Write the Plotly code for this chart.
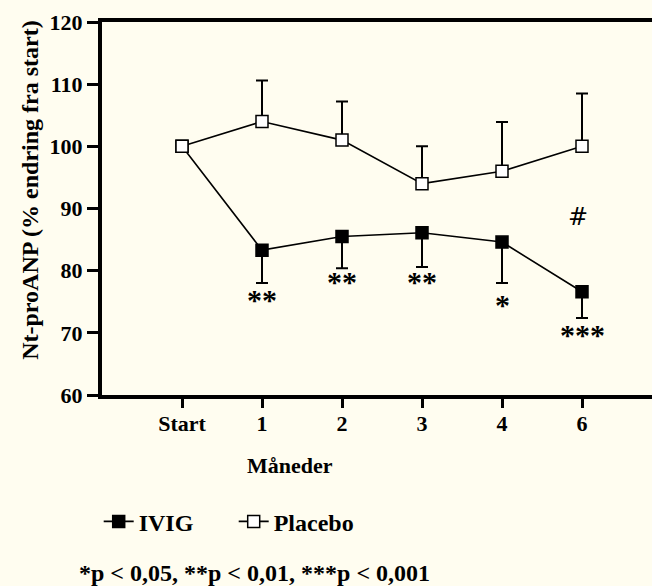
import plotly.graph_objects as go

categories = ["Start", "1", "2", "3", "4", "6"]
ivig = [100, 83.3, 85.5, 86.1, 84.6, 76.6]
ivig_err_low = [0, 5.3, 5.1, 5.5, 6.6, 4.2]
placebo = [100, 104.0, 101.0, 94.0, 96.0, 100.0]
placebo_err_up = [0, 6.6, 6.2, 6.0, 7.9, 8.5]
sig_labels = ["", "**", "**", "**", "*", "***"]
sig_y = [None, 75.4, 78.2, 78.2, 74.6, 69.8]

FONT = "Liberation Serif"
BG = "#FFFDF0"

fig = go.Figure()
fig.add_trace(go.Scatter(
    x=categories, y=ivig, name="IVIG", mode="lines+markers",
    line=dict(color="black", width=1.6),
    marker=dict(symbol="square", size=12, color="black", line=dict(color="black", width=1.5)),
    error_y=dict(type="data", symmetric=False, array=[0] * len(ivig), arrayminus=ivig_err_low,
                 color="black", thickness=2, width=6),
))
fig.add_trace(go.Scatter(
    x=categories, y=placebo, name="Placebo", mode="lines+markers",
    line=dict(color="black", width=1.6),
    marker=dict(symbol="square", size=12, color="white", line=dict(color="black", width=1.5)),
    error_y=dict(type="data", symmetric=False, array=placebo_err_up, arrayminus=[0] * len(placebo),
                 color="black", thickness=2, width=6),
))

for i, (s, y) in enumerate(zip(sig_labels, sig_y)):
    if s:
        fig.add_annotation(x=i, y=y, xref="x", yref="y", text=s, showarrow=False,
                           font=dict(family=FONT, size=30, color="black", weight="bold"),
                           xanchor="center", yanchor="middle")

fig.add_annotation(x=categories.index("6"), y=88.6, xref="x", yref="y", text="#", showarrow=False,
                   font=dict(family="DejaVu Sans", size=24, color="black"),
                   xanchor="center", yanchor="middle", xshift=-4)

fig.add_annotation(x=-0.131, y=0.55, xref="paper", yref="paper",
                   text="Nt-proANP (% endring fra start)", textangle=-90, showarrow=False,
                   xanchor="center", yanchor="middle",
                   font=dict(family=FONT, size=24, color="black", weight="bold"))
fig.add_annotation(x=0.342, y=-0.188, xref="paper", yref="paper", text="Måneder",
                   showarrow=False, xanchor="center", yanchor="middle",
                   font=dict(family=FONT, size=22, color="black", weight="bold"))
fig.add_annotation(x=0.278, y=-0.477, xref="paper", yref="paper",
                   text="*p &lt; 0,05, **p &lt; 0,01, ***p &lt; 0,001",
                   showarrow=False, xanchor="center", yanchor="middle",
                   font=dict(family=FONT, size=24, color="black", weight="bold"))

fig.update_layout(
    width=652, height=586,
    margin=dict(l=102, r=0, t=22, b=191, autoexpand=False),
    paper_bgcolor=BG, plot_bgcolor=BG,
    font=dict(family=FONT, color="black"),
    showlegend=True,
    legend=dict(orientation="h", x=-0.006, xanchor="left", y=-0.34, yanchor="middle",
                font=dict(family=FONT, size=24, color="black", weight="bold"),
                bgcolor="rgba(0,0,0,0)", itemwidth=30, tracegroupgap=0,
                entrywidth=90, entrywidthmode="pixels"),
)
fig.update_xaxes(
    type="category", range=[-1, 5.875], showgrid=False, zeroline=False, automargin=False,
    showline=True, linecolor="black", linewidth=4, mirror=True,
    ticks="outside", ticklen=9, tickwidth=3, tickcolor="black", ticklabelstandoff=-3,
    tickfont=dict(family=FONT, size=22, color="black", weight="bold"),
)
fig.update_yaxes(
    range=[60, 120], dtick=10, showgrid=False, zeroline=False, automargin=False,
    showline=True, linecolor="black", linewidth=4,
    ticks="outside", ticklen=11, tickwidth=3, tickcolor="black",
    tickfont=dict(family=FONT, size=22, color="black", weight="bold"),
)

fig.write_html(
    "out.html",
    config={"displayModeBar": False},
    post_script="document.body.style.margin='0';document.body.style.overflow='hidden';"
                "document.body.style.background='" + BG + "';",
)
